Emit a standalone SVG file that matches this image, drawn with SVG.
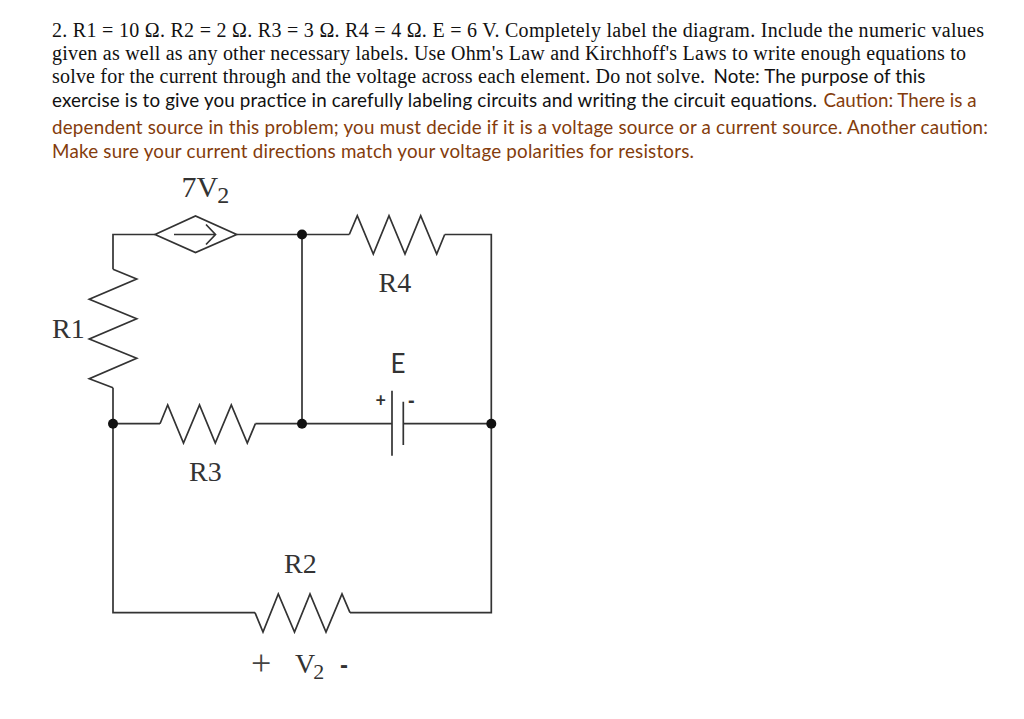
<svg xmlns="http://www.w3.org/2000/svg" width="1024" height="719" viewBox="0 0 1024 719">
<style>
.s{font-family:"Liberation Serif","Times New Roman",serif;fill:#111}
.q{font-size:20px}
.c{font-family:Lato,"Noto Sans",sans-serif;font-size:18.8px;fill:#111}
.r{fill:#843c0c}
.l{font-size:28px;fill:#333}
.sub{font-size:24px}
.w{fill:none;stroke:#333;stroke-width:1.7;stroke-linejoin:miter}
.d{fill:#111}
</style>
<rect width="1024" height="719" fill="#fff"/>
<g id="question">
<text class="s q" x="52" y="36.5" textLength="932">2. R1 = 10 Ω. R2 = 2 Ω. R3 = 3 Ω. R4 = 4 Ω. E = 6 V. Completely label the diagram. Include the numeric values</text>
<text class="s q" x="52" y="59.5" textLength="914">given as well as any other necessary labels. Use Ohm's Law and Kirchhoff's Laws to write enough equations to</text>
<text class="s q" x="52" y="83" textLength="653">solve for the current through and the voltage across each element. Do not solve.</text>
<text class="c" x="713.5" y="83" textLength="212">Note: The purpose of this</text>
<text class="c" x="52" y="107" textLength="765">exercise is to give you practice in carefully labeling circuits and writing the circuit equations.</text>
<text class="c r" x="823.5" y="107" textLength="153">Caution: There is a</text>
<text class="c r" x="52" y="133.5" textLength="936">dependent source in this problem; you must decide if it is a voltage source or a current source. Another caution:</text>
<text class="c r" x="52" y="157.5" textLength="642">Make sure your current directions match your voltage polarities for resistors.</text>
</g>
<g id="connectors" class="w">
<path d="M155 234.5H113V269.3"/>
<path d="M113 387.7V423.7"/>
<path d="M113 423.7H160"/>
<path d="M255.4 423.7H302"/>
<path d="M236.7 234.5H349.3"/>
<path d="M444.7 234.5H491.3V423.7"/>
<path d="M302 234.5V423.7"/>
<path d="M302 423.7H392"/>
<path d="M403.3 423.7H491.3"/>
<path d="M113 423.7V612.7H255"/>
<path d="M350 612.7H491.3V423.7"/>
</g>
<g id="source-7V2">
<path class="w" d="M155 234.5L195.5 216 236.7 234.5 195.5 252.5Z"/>
<path class="w" d="M174 234.5H215M206 224.5L215.5 234.5 206 244.5"/>
<text class="s l" x="181.5" y="196.5" font-size="30" style="font-size:30px">7V<tspan dx="-1" dy="6" style="font-size:24px">2</tspan></text>
</g>
<g id="R1">
<path class="w" d="M113 269.3L136.7 279 89.3 299.3 136.7 318.7 89.3 339 136.7 358.3 89.3 378.7 113 387.7"/>
<text class="s l" x="52" y="338">R1</text>
</g>
<g id="R3">
<path class="w" d="M160 423.7L167.7 405 183.5 443 199.5 405 215.3 443 231.3 405 247.3 443 255.4 423.7"/>
<text class="s l" x="189" y="481">R3</text>
</g>
<g id="R4">
<path class="w" d="M349.3 234.5L357.3 215.7 373.3 254 389 215.7 405 254 420.7 215.7 436.7 254 444.7 234.5"/>
<text class="s l" x="378.5" y="292">R4</text>
</g>
<g id="R2">
<path class="w" d="M255 612.7L263 632 278.3 594 294.5 632 310 594 326 632 342 594 350 612.7"/>
<text class="s l" x="284" y="573">R2</text>
<text class="s" x="251" y="675" fill="#444" style="font-size:36px;fill:#444">+</text>
<text class="s l" x="295" y="673">V<tspan dx="-2" dy="6" style="font-size:22px">2</tspan></text>
<text x="340" y="673" font-family="Liberation Sans, sans-serif" font-size="24" font-weight="700" fill="#333">-</text>
</g>
<g id="E">
<path class="w" d="M392 390.7V455.7M403.3 401.7V445"/>
<text x="390.5" y="372.7" font-family="Lato, sans-serif" font-size="26" fill="#333">E</text>
<text x="375.5" y="407" font-family="Lato, sans-serif" font-size="18" font-weight="700" fill="#333">+</text>
<text x="408" y="407" font-family="Liberation Sans, sans-serif" font-size="20" font-weight="700" fill="#333">-</text>
</g>
<g id="node-top"><circle class="d" cx="302" cy="234.5" r="5"/></g>
<g id="node-left"><circle class="d" cx="113" cy="423.7" r="5"/></g>
<g id="node-middle"><circle class="d" cx="302" cy="423.7" r="5"/></g>
<g id="node-right"><circle class="d" cx="491.3" cy="423.7" r="5"/></g>
</svg>
